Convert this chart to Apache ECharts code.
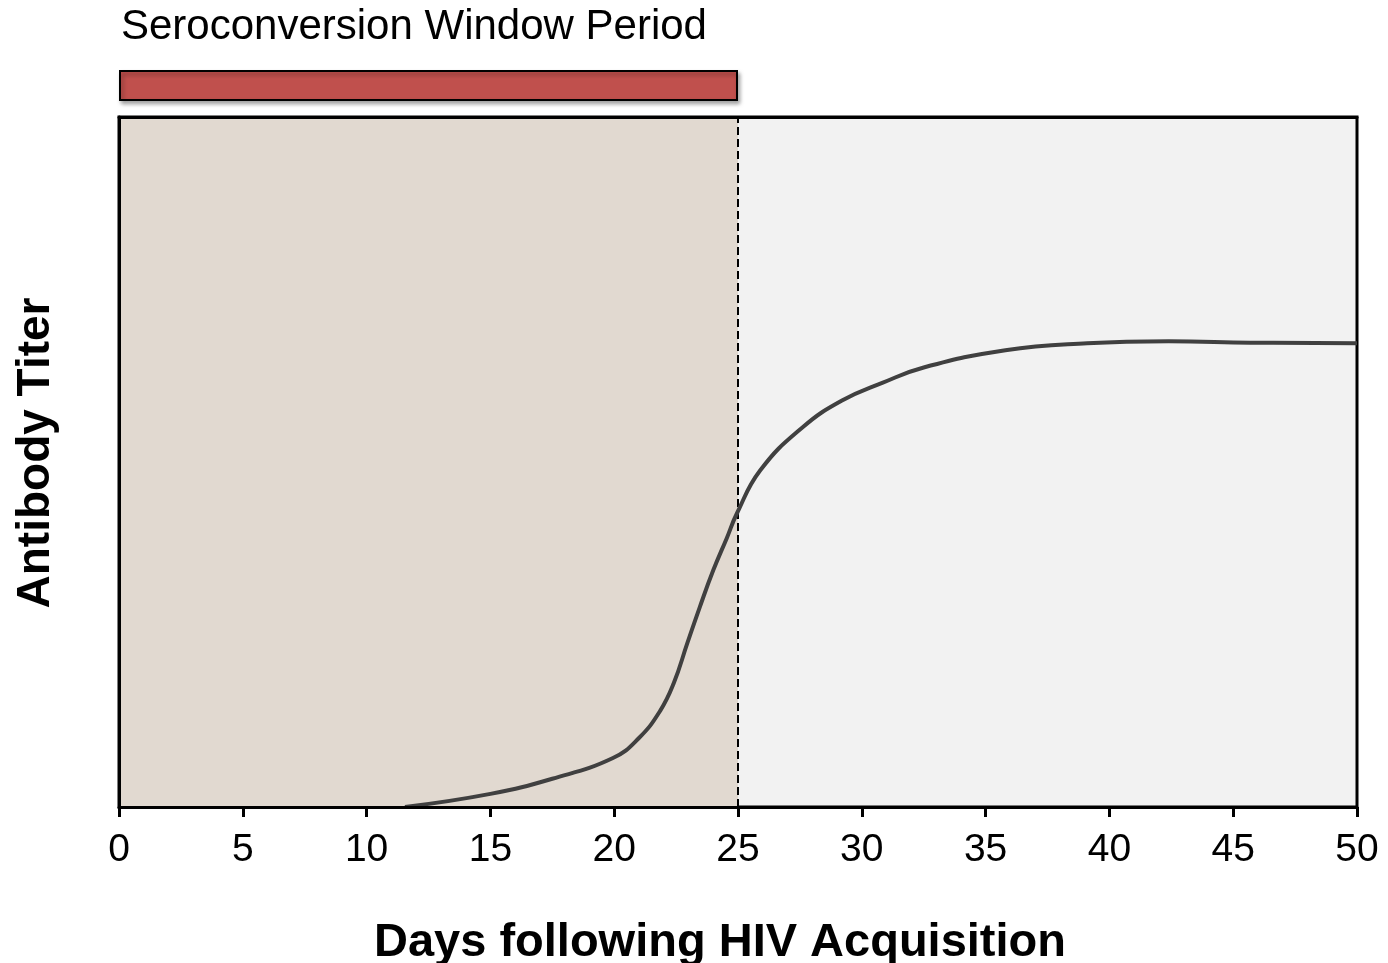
<!DOCTYPE html>
<html>
<head>
<meta charset="utf-8">
<script src="https://cdn.jsdelivr.net/npm/echarts@6/dist/echarts.min.js"></script>
<style>
  html, body { margin: 0; padding: 0; background: #fff; overflow: hidden; }
  #chart { width: 1388px; height: 963px; }
</style>
</head>
<body>
<div id="chart"></div>
<script>
// 抗体滴度曲线
const days = [11.55, 15.0, 17.5, 19.95, 21.0, 21.85, 22.4, 22.95, 23.45, 24.0, 24.55, 24.95,
  25.9, 27.6, 29.2, 30.85, 32.5, 35.8, 39.1, 42.4, 45.7, 50]
const titer = [0, 1.9, 4.1, 7.1, 10.0, 13.9, 17.9, 23.7, 28.9, 34.3, 39.0, 42.5,
  48.8, 55.0, 58.9, 61.5, 63.7, 66.2, 67.2, 67.5, 67.3, 67.2]
const xTicks = [0, 5, 10, 15, 20, 25, 30, 35, 40, 45, 50]
const windowStart = 0
const windowEnd = 25

const chart = echarts.init(document.getElementById('chart'))

const font = 'Liberation Sans, Arial, sans-serif'

const option = {
  animation: false,
  title: {
    text: 'Seroconversion Window Period',
    left: 121,
    top: 6,
    padding: 0,
    textStyle: { fontFamily: font, fontSize: 42, fontWeight: 'normal', color: '#000' }
  },
  grid: [
    {
      left: 119, right: 31, top: 117, bottom: 156,
      outerBoundsMode: 'none',
      show: true,
      backgroundColor: '#f2f2f2',
      borderColor: '#000',
      borderWidth: 3
    },
    // 顶部红条
    { left: 119, right: 31, top: 70, height: 31, outerBoundsMode: 'none' }
  ],
  xAxis: [
    {
      type: 'value',
      gridIndex: 0,
      z: 10,
      min: xTicks[0],
      max: xTicks[xTicks.length - 1],
      interval: 5,
      name: 'Days following HIV Acquisition',
      nameLocation: 'middle',
      nameGap: 113,
      nameTextStyle: {
        fontFamily: font, fontSize: 47, fontWeight: 'bold', color: '#000',
        padding: [0, 36, 0, 0]
      },
      axisLine: { show: true, lineStyle: { color: '#000', width: 3 } },
      axisTick: { show: true, length: 10, lineStyle: { color: '#000', width: 3 } },
      axisLabel: { margin: 24, fontFamily: font, fontSize: 39, color: '#000' },
      splitLine: { show: false }
    },
    {
      type: 'value',
      gridIndex: 1,
      min: xTicks[0],
      max: xTicks[xTicks.length - 1],
      show: false
    },
    // 上边框
    {
      type: 'value',
      gridIndex: 0,
      position: 'top',
      z: 10,
      min: xTicks[0],
      max: xTicks[xTicks.length - 1],
      axisLine: { show: true, lineStyle: { color: '#000', width: 3 } },
      axisTick: { show: false },
      axisLabel: { show: false },
      splitLine: { show: false }
    }
  ],
  yAxis: [
    {
      type: 'value',
      gridIndex: 0,
      z: 10,
      min: 0,
      max: 100,
      name: 'Antibody Titer',
      nameLocation: 'middle',
      nameGap: 60,
      nameRotate: 90,
      nameTextStyle: {
        fontFamily: font, fontSize: 46, fontWeight: 'bold', color: '#000',
        padding: [0, 0, 0, 18]
      },
      axisLine: { show: true, lineStyle: { color: '#000', width: 3 } },
      axisTick: { show: false },
      axisLabel: { show: false },
      splitLine: { show: false }
    },
    {
      type: 'category',
      gridIndex: 1,
      data: ['window'],
      show: false
    }
  ],
  series: [
    {
      type: 'line',
      xAxisIndex: 0,
      yAxisIndex: 0,
      data: days.map((d, i) => [d, titer[i]]),
      smooth: 0.45,
      showSymbol: false,
      lineStyle: { color: '#404040', width: 4 },
      z: 5,
      markArea: {
        silent: true,
        itemStyle: { color: '#e1d9d0' },
        data: [[{ xAxis: windowStart }, { xAxis: windowEnd }]]
      },
      markLine: {
        silent: true,
        symbol: ['none', 'none'],
        label: { show: false },
        lineStyle: { color: '#000', width: 2, type: [8, 4] },
        data: [{ xAxis: windowEnd }]
      }
    },
    {
      type: 'bar',
      xAxisIndex: 1,
      yAxisIndex: 1,
      data: [windowEnd],
      barWidth: '100%',
      itemStyle: {
        color: '#c0504d',
        borderColor: '#000',
        borderWidth: 2,
        shadowColor: 'rgba(0,0,0,0.35)',
        shadowBlur: 4,
        shadowOffsetX: 2,
        shadowOffsetY: 3
      }
    }
  ]
}

chart.setOption(option)
</script>
</body>
</html>
